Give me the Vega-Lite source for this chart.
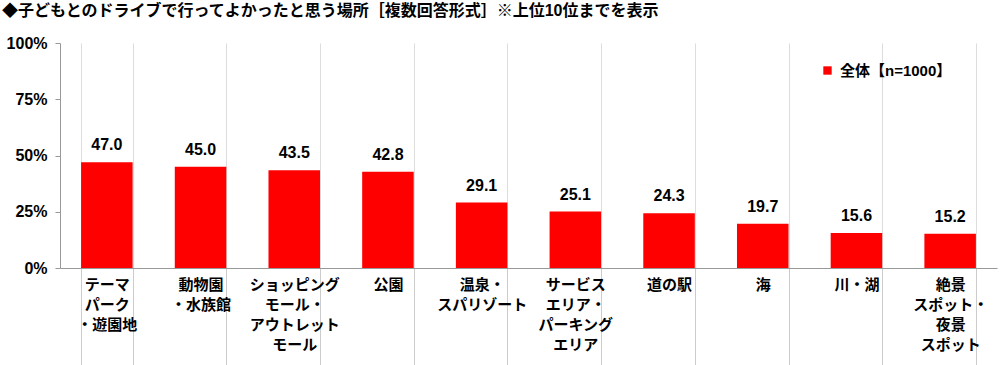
{
  "$schema": "https://vega.github.io/schema/vega-lite/v6.json",
  "autosize": {"type": "none"},
  "width": 937,
  "height": 225,
  "padding": {"left": 60, "top": 43, "right": 3, "bottom": 97},
  "background": "white",
  "title": {
    "text": "◆子どもとのドライブで行ってよかったと思う場所［複数回答形式］※上位10位までを表示",
    "anchor": "start",
    "frame": "group",
    "dx": -58,
    "offset": 16,
    "font": "Liberation Sans, Noto Sans CJK JP",
    "fontSize": 16,
    "fontWeight": "bold",
    "color": "#000000"
  },
  "config": {
    "view": {"stroke": null},
    "font": "Liberation Sans, Noto Sans CJK JP"
  },
  "data": {
    "values": [
      {"place": "テーマ|パーク|・遊園地", "value": 47.0, "series": "全体【n=1000】"},
      {"place": "動物園|・水族館", "value": 45.0, "series": "全体【n=1000】"},
      {"place": "ショッピング|モール・|アウトレット|モール", "value": 43.5, "series": "全体【n=1000】"},
      {"place": "公園", "value": 42.8, "series": "全体【n=1000】"},
      {"place": "温泉・|スパリゾート", "value": 29.1, "series": "全体【n=1000】"},
      {"place": "サービス|エリア・|パーキング|エリア", "value": 25.1, "series": "全体【n=1000】"},
      {"place": "道の駅", "value": 24.3, "series": "全体【n=1000】"},
      {"place": "海", "value": 19.7, "series": "全体【n=1000】"},
      {"place": "川・湖", "value": 15.6, "series": "全体【n=1000】"},
      {"place": "絶景|スポット・|夜景|スポット", "value": 15.2, "series": "全体【n=1000】"}
    ]
  },
  "encoding": {
    "x": {
      "field": "place",
      "type": "nominal",
      "sort": null,
      "scale": {"paddingInner": 0.45, "paddingOuter": 0.225},
      "axis": {
        "title": null,
        "labelAngle": 0,
        "labelExpr": "split(datum.label, '|')",
        "labelFont": "Liberation Sans, Noto Sans CJK JP",
        "labelFontSize": 15,
        "labelFontWeight": "bold",
        "labelColor": "#000000",
        "labelLineHeight": 20,
        "labelBaseline": "top",
        "labelPadding": -88,
        "labelLimit": 200,
        "tickBand": "extent",
        "tickSize": 97,
        "tickColor": "#cccccc",
        "tickWidth": 1,
        "grid": true,
        "gridColor": "#dddddd",
        "gridWidth": 1,
        "domainColor": "#999999",
        "domainWidth": 1
      }
    },
    "y": {
      "field": "value",
      "type": "quantitative",
      "scale": {"domain": [0, 100]},
      "axis": {
        "title": null,
        "values": [0, 25, 50, 75, 100],
        "labelExpr": "datum.value + '%'",
        "labelFont": "Liberation Sans, Noto Sans CJK JP",
        "labelFontSize": 16,
        "labelFontWeight": "bold",
        "labelColor": "#000000",
        "labelPadding": 8,
        "tickSize": 5,
        "tickColor": "#999999",
        "domainColor": "#999999",
        "grid": false
      }
    }
  },
  "layer": [
    {
      "mark": {"type": "bar"},
      "encoding": {
        "color": {
          "field": "series",
          "type": "nominal",
          "scale": {"range": ["#ff0000"]},
          "legend": {
            "title": null,
            "orient": "none",
            "legendX": 760,
            "legendY": 20,
            "symbolType": "square",
            "symbolSize": 70,
            "symbolStrokeWidth": 0,
            "labelFont": "Liberation Sans, Noto Sans CJK JP",
            "labelFontSize": 15,
            "labelFontWeight": "bold",
            "labelColor": "#000000",
            "labelOffset": 5
          }
        }
      }
    },
    {
      "mark": {
        "type": "text",
        "baseline": "bottom",
        "dy": -9,
        "fontSize": 16,
        "fontWeight": "bold",
        "font": "Liberation Sans, Noto Sans CJK JP",
        "color": "#000000"
      },
      "encoding": {
        "text": {"field": "value", "type": "quantitative", "format": ".1f"}
      }
    }
  ]
}
